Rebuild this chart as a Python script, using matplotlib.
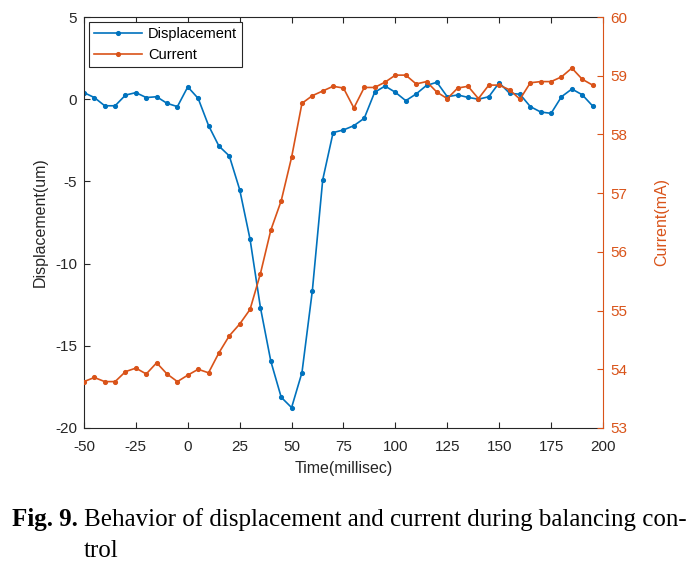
import matplotlib.pyplot as plt

time_ms = list(range(-50, 200, 5))

displacement = [0.4, 0.1, -0.4, -0.4, 0.25, 0.4, 0.1, 0.15, -0.25, -0.45,
                0.75, 0.05, -1.6, -2.85, -3.45, -5.5, -8.52, -12.68, -15.94, -18.13,
                -18.76, -16.63, -11.65, -4.9, -2.03, -1.87, -1.61, -1.16, 0.42, 0.8,
                0.42, -0.09, 0.32, 0.84, 1.03, 0.15, 0.26, 0.11, 0.0, 0.15,
                1.0, 0.36, 0.3, -0.45, -0.78, -0.86, 0.15, 0.62, 0.27, -0.41]

current = [53.79, 53.86, 53.79, 53.79, 53.96, 54.02, 53.92, 54.11, 53.92, 53.79,
           53.90, 54.0, 53.94, 54.28, 54.57, 54.77, 55.02, 55.63, 56.37, 56.87,
           57.61, 58.53, 58.66, 58.74, 58.82, 58.79, 58.45, 58.80, 58.80, 58.89,
           59.01, 59.01, 58.86, 58.90, 58.72, 58.61, 58.79, 58.82, 58.61, 58.84,
           58.84, 58.76, 58.60, 58.88, 58.90, 58.90, 58.98, 59.13, 58.94, 58.84]

xticks = [-50, -25, 0, 25, 50, 75, 100, 125, 150, 175, 200]

blue = "#0072BD"
orange = "#D95319"
dark = "#262626"

plt.rcParams['font.family'] = ['Liberation Sans', 'DejaVu Sans']
plt.rcParams['axes.unicode_minus'] = False

fig = plt.figure(figsize=(6.98, 5.65), dpi=100)
ax = fig.add_axes([0.1203, 0.2425, 0.7436, 0.7274])
ax2 = ax.twinx()

l1, = ax.plot(time_ms, displacement, color=blue, lw=1.2, marker='o', ms=2.7,
              label='Displacement')
l2, = ax2.plot(time_ms, current, color=orange, lw=1.2, marker='o', ms=2.7,
               label='Current')

ax.set_xlim(-50, 200)
ax.set_ylim(-20, 5)
ax2.set_ylim(53, 60)
ax.set_xticks(xticks)
ax.set_yticks([-20, -15, -10, -5, 0, 5])
ax2.set_yticks([53, 54, 55, 56, 57, 58, 59, 60])

ax.tick_params(axis='both', direction='in', length=4, labelsize=11,
               colors=dark, top=True)
ax.tick_params(axis='x', pad=9)
ax.tick_params(axis='y', right=False, pad=5)
ax2.tick_params(axis='y', direction='in', length=4, labelsize=11,
                colors=orange, pad=5)

for s in ['left', 'top', 'bottom']:
    ax.spines[s].set_color(dark)
ax2.spines['right'].set_color(orange)
ax.spines['right'].set_visible(False)
ax2.spines['left'].set_visible(False)
ax2.spines['top'].set_visible(False)
ax2.spines['bottom'].set_visible(False)

ax.set_xlabel('Time(millisec)', fontsize=11.5, color=dark, labelpad=5)
ax.set_ylabel('Displacement(um)', fontsize=11.5, color=dark, labelpad=5)
ax2.set_ylabel('Current(mA)', fontsize=11.5, color=orange, labelpad=20)

leg = ax.legend(handles=[l1, l2], loc='upper left', fontsize=10.5,
                fancybox=False, edgecolor=dark, framealpha=1,
                borderaxespad=0.35, handlelength=3.3, labelspacing=0.45,
                borderpad=0.35, handletextpad=0.4)
leg.get_frame().set_linewidth(0.8)

cap = ['Liberation Serif', 'DejaVu Serif']
fig.text(12 / 698, 1 - 526 / 565, 'Fig. 9.', family=cap, weight='bold',
         fontsize=18, va='baseline', ha='left')
fig.text(84 / 698, 1 - 526 / 565,
         'Behavior of displacement and current during balancing con-',
         family=cap, fontsize=18, va='baseline', ha='left')
fig.text(84 / 698, 1 - 557 / 565, 'trol', family=cap, fontsize=18,
         va='baseline', ha='left')

fig.savefig('out.png', dpi=100)
